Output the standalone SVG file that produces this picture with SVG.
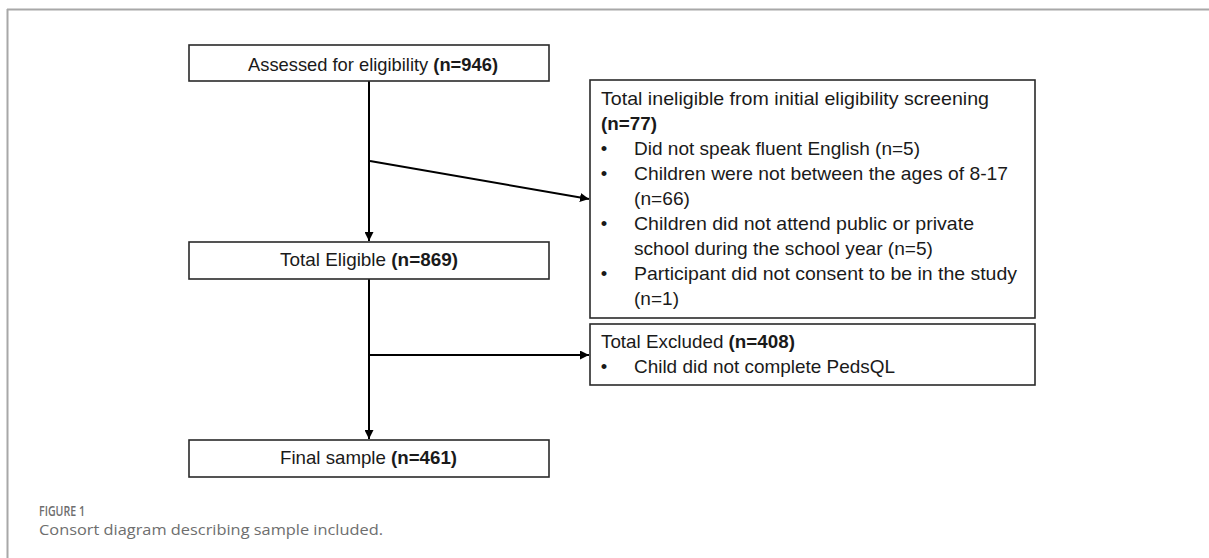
<svg xmlns="http://www.w3.org/2000/svg" width="1209" height="558" viewBox="0 0 1209 558">
  <defs>
    <marker id="arrow" viewBox="0 0 10 10" refX="10" refY="5" markerWidth="9" markerHeight="9" markerUnits="userSpaceOnUse" orient="auto">
      <path d="M0,0 L10,5 L0,10 z" fill="#000"/>
    </marker>
    <style>
      .box { fill: #fff; stroke: #2a2a2a; stroke-width: 1.6; }
      .t { font-family: "Liberation Sans", Arial, sans-serif; font-size: 18.5px; fill: #1a1a1a; }
      .b { font-weight: bold; }
      .c { text-anchor: middle; }
      .conn { stroke: #000; stroke-width: 2; fill: none; marker-end: url(#arrow); }
      .frame { stroke: #a8a8a8; stroke-width: 2; fill: none; }
      .figlabel { font-family: "Open Sans", "Liberation Sans", sans-serif; font-size: 14px; font-weight: 600; fill: #6e6e6e; }
      .caption { font-family: "Open Sans", "Liberation Sans", sans-serif; font-size: 15px; fill: #6e6e6e; }
    </style>
  </defs>
  <rect width="1209" height="558" fill="#fff"/>
  <g id="frame">
    <line class="frame" x1="7" y1="9.5" x2="1209" y2="9.5"/>
    <line class="frame" x1="7.5" y1="9" x2="7.5" y2="558"/>
  </g>

  <g id="connectors">
    <line class="conn" x1="369" y1="81" x2="369" y2="241"/>
    <line class="conn" x1="370" y1="161" x2="589" y2="199"/>
    <line class="conn" x1="369" y1="279" x2="369" y2="439"/>
    <line class="conn" x1="369" y1="355" x2="589" y2="355"/>
  </g>

  <g id="assessed">
    <rect class="box" x="189" y="45" width="360" height="36"/>
    <text class="t" x="248" y="70.5" textLength="250" lengthAdjust="spacingAndGlyphs">Assessed for eligibility <tspan class="b">(n=946)</tspan></text>
  </g>

  <g id="eligible">
    <rect class="box" x="189" y="242" width="360" height="37"/>
    <text class="t" x="280" y="266" textLength="178" lengthAdjust="spacingAndGlyphs">Total Eligible <tspan class="b">(n=869)</tspan></text>
  </g>

  <g id="final">
    <rect class="box" x="189" y="440" width="360" height="37"/>
    <text class="t" x="280" y="464" textLength="177" lengthAdjust="spacingAndGlyphs">Final sample <tspan class="b">(n=461)</tspan></text>
  </g>

  <g id="ineligible">
    <rect class="box" x="590" y="80" width="445" height="238"/>
    <text class="t" x="601" y="104.5" textLength="388" lengthAdjust="spacingAndGlyphs">Total ineligible from initial eligibility screening</text>
    <text class="t b" x="601" y="129.5" textLength="56" lengthAdjust="spacingAndGlyphs">(n=77)</text>
    <text class="t c" x="604" y="154.5">•</text>
    <text class="t" x="634" y="154.5" textLength="286" lengthAdjust="spacingAndGlyphs">Did not speak fluent English (n=5)</text>
    <text class="t c" x="604" y="179.5">•</text>
    <text class="t" x="634" y="179.5" textLength="374" lengthAdjust="spacingAndGlyphs">Children were not between the ages of 8-17</text>
    <text class="t" x="634" y="204.5" textLength="56" lengthAdjust="spacingAndGlyphs">(n=66)</text>
    <text class="t c" x="604" y="229.5">•</text>
    <text class="t" x="634" y="229.5" textLength="340" lengthAdjust="spacingAndGlyphs">Children did not attend public or private</text>
    <text class="t" x="634" y="254.5" textLength="299" lengthAdjust="spacingAndGlyphs">school during the school year (n=5)</text>
    <text class="t c" x="604" y="279.5">•</text>
    <text class="t" x="634" y="279.5" textLength="383" lengthAdjust="spacingAndGlyphs">Participant did not consent to be in the study</text>
    <text class="t" x="634" y="304.5" textLength="45" lengthAdjust="spacingAndGlyphs">(n=1)</text>
  </g>

  <g id="excluded">
    <rect class="box" x="590" y="324" width="445" height="61"/>
    <text class="t" x="601" y="348" textLength="194" lengthAdjust="spacingAndGlyphs">Total Excluded <tspan class="b">(n=408)</tspan></text>
    <text class="t c" x="604" y="373">•</text>
    <text class="t" x="634" y="373" textLength="261" lengthAdjust="spacingAndGlyphs">Child did not complete PedsQL</text>
  </g>

  <g id="caption">
    <text class="figlabel" x="39" y="516" textLength="46" lengthAdjust="spacingAndGlyphs">FIGURE 1</text>
    <text class="caption" x="39" y="535" textLength="344" lengthAdjust="spacingAndGlyphs">Consort diagram describing sample included.</text>
  </g>
</svg>
